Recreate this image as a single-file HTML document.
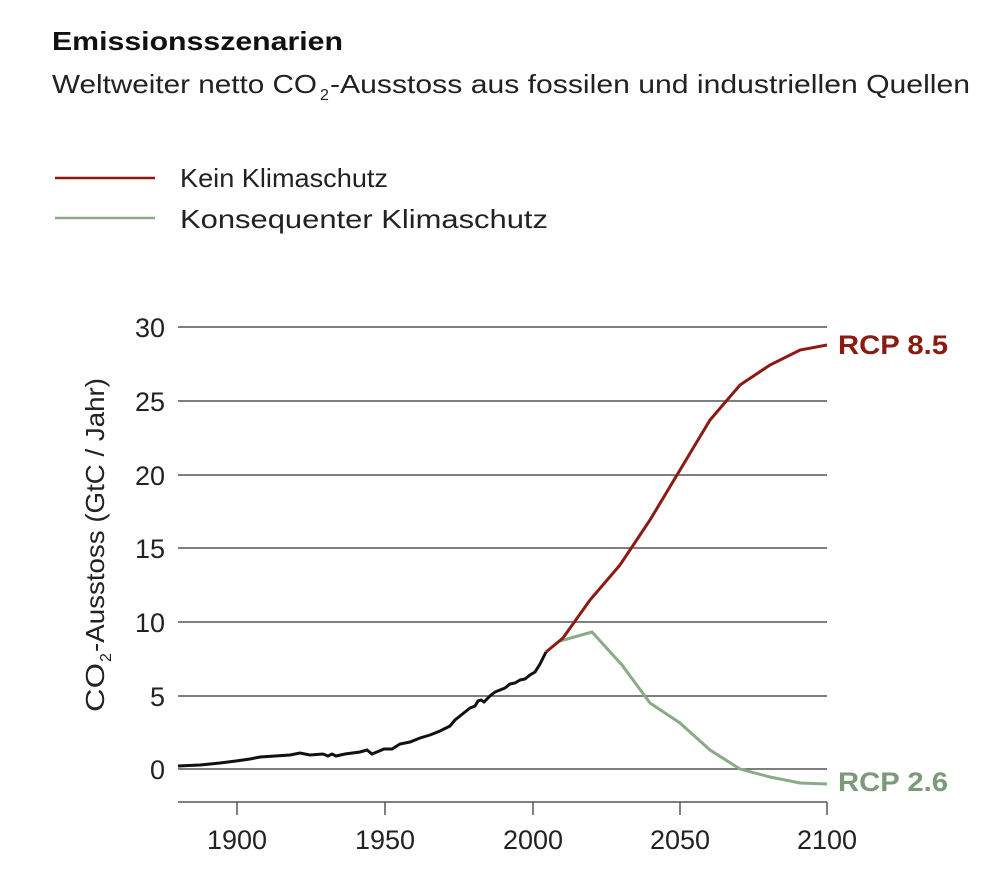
<!DOCTYPE html>
<html><head><meta charset="utf-8"><style>
body{margin:0;background:#fff;font-family:"Liberation Sans",sans-serif;}
svg text{font-family:"Liberation Sans",sans-serif;}
</style></head><body>
<svg width="1000" height="891" xmlns="http://www.w3.org/2000/svg">
<text x="52" y="50" font-size="26" font-weight="bold" fill="#111" textLength="291" lengthAdjust="spacingAndGlyphs">Emissionsszenarien</text>
<text x="52" y="93" font-size="26" fill="#222" textLength="265" lengthAdjust="spacingAndGlyphs">Weltweiter netto CO</text>
<text x="320" y="100" font-size="16" fill="#222">2</text>
<text x="330" y="93" font-size="26" fill="#222" textLength="640" lengthAdjust="spacingAndGlyphs">-Ausstoss aus fossilen und industriellen Quellen</text>
<line x1="55" y1="178" x2="155" y2="178" stroke="#8b1a10" stroke-width="2.5"/>
<text x="180" y="187" font-size="26" fill="#222" textLength="208" lengthAdjust="spacingAndGlyphs">Kein Klimaschutz</text>
<line x1="55" y1="218" x2="155" y2="218" stroke="#8aab88" stroke-width="2.5"/>
<text x="180" y="228" font-size="26" fill="#222" textLength="368" lengthAdjust="spacingAndGlyphs">Konsequenter Klimaschutz</text>
<g stroke="#555" stroke-width="1.5">
<line x1="178" y1="327" x2="827" y2="327"/>
<line x1="178" y1="401" x2="827" y2="401"/>
<line x1="178" y1="475" x2="827" y2="475"/>
<line x1="178" y1="548" x2="827" y2="548"/>
<line x1="178" y1="622" x2="827" y2="622"/>
<line x1="178" y1="696" x2="827" y2="696"/>
<line x1="178" y1="769" x2="827" y2="769"/>
<line x1="178" y1="802" x2="827" y2="802"/>
<line x1="237" y1="802" x2="237" y2="815"/>
<line x1="385" y1="802" x2="385" y2="815"/>
<line x1="533" y1="802" x2="533" y2="815"/>
<line x1="680" y1="802" x2="680" y2="815"/>
<line x1="827" y1="802" x2="827" y2="815"/>
</g>
<g font-size="27" fill="#222" text-anchor="end">
<text x="165" y="337">30</text><text x="165" y="411">25</text><text x="165" y="485">20</text>
<text x="165" y="558">15</text><text x="165" y="632">10</text><text x="165" y="706">5</text><text x="165" y="779">0</text>
</g>
<g font-size="27" fill="#222" text-anchor="middle">
<text x="237" y="849">1900</text><text x="385" y="849">1950</text><text x="533" y="849">2000</text><text x="680" y="849">2050</text><text x="827" y="849">2100</text>
</g>
<g transform="translate(104,0) rotate(-90)">
<text x="-712" y="0" font-size="26" fill="#222" textLength="49" lengthAdjust="spacingAndGlyphs">CO</text>
<text x="-662" y="7" font-size="16" fill="#222">2</text>
<text x="-652" y="0" font-size="26" fill="#222" textLength="274" lengthAdjust="spacingAndGlyphs">-Ausstoss (GtC / Jahr)</text>
</g>
<polyline fill="none" stroke="#8aab88" stroke-width="3" points="560,641 592,632 622,665 650,703 680,723 710,750 740,769 770,777 800,783 827,784"/>
<polyline fill="none" stroke="#8b1a10" stroke-width="3" points="546,652 563,638 590,600 620,565 650,520 680,470 710,420 740,385 770,365 800,350 827,345"/>
<polyline fill="none" stroke="#111" stroke-width="3" points="178,766 200,765 220,763 236,761 250,759 260,757 275,756 290,755 300,753 310,755 323,754 328,756 332,754 336,756 345,754 360,752 367,750 372,754 384,749 392,749 400,744 410,742 420,738 430,735 440,731 450,726 455,720 460,716 465,712 470,708 475,706 478,701 481,700 484,702 490,696 495,692 500,690 505,688 510,684 515,683 520,680 525,679 530,675 535,672 540,664 546,652"/>
<text x="838" y="354" font-size="27" font-weight="bold" fill="#8b1a10" textLength="110" lengthAdjust="spacingAndGlyphs">RCP 8.5</text>
<text x="838" y="791" font-size="27" font-weight="bold" fill="#7a9a78" textLength="110" lengthAdjust="spacingAndGlyphs">RCP 2.6</text>
</svg>
</body></html>
